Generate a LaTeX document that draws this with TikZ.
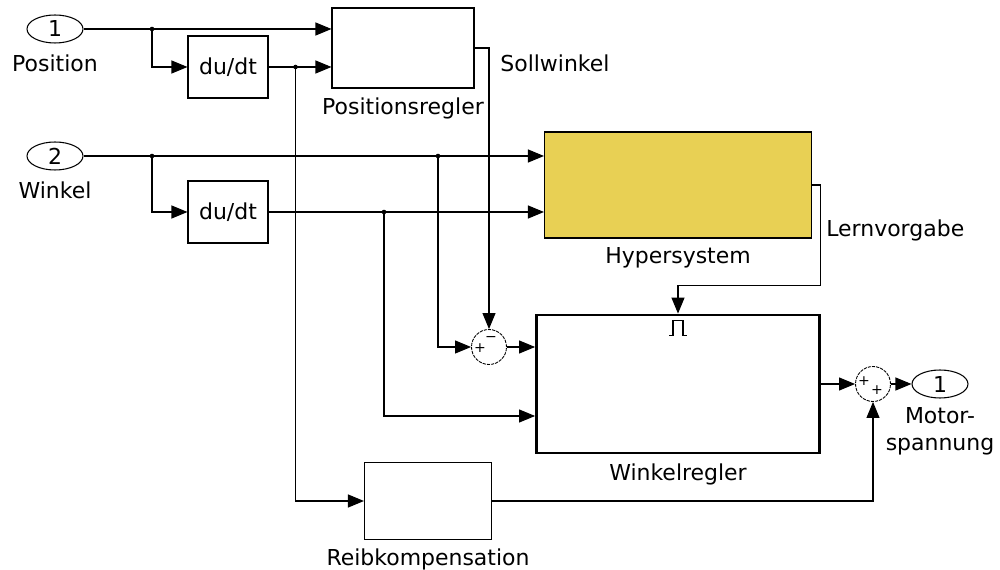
\documentclass[tikz,border=0pt]{standalone}
\usepackage{fontspec}
\setmainfont{DejaVu Sans}
\usepackage{tikz}
\usetikzlibrary{shapes.geometric, positioning, arrows.meta, calc}
\definecolor{hypergelb}{RGB}{232,208,84}

\begin{document}
\begin{tikzpicture}[
            x=0.2mm, y=-0.2mm,
            node distance=5pt,
            every node/.style={font=\fontsize{12.5}{15.5}\selectfont},
            % Stile der Bloecke
            block/.style={rectangle, draw=black, line width=0.6pt, minimum width=16mm, minimum height=12.4mm, inner sep=0pt},
            port/.style={ellipse, draw=black, line width=0.6pt, minimum width=11.2mm, minimum height=5.6mm, inner sep=0pt},
            sumnode/.style={circle, draw=black, line width=0.5pt, dash pattern=on 1.8pt off 0.6pt, minimum size=7mm, inner sep=0pt},
            lbl/.style={inner sep=0pt, align=center},
            sgn/.style={font=\fontsize{8}{8}\selectfont, inner sep=0pt},
            arrow/.style={line width=0.6pt, -{Triangle[length=3.2mm, width=2.6mm]}}
        ]
            \useasboundingbox (0,0) rectangle (1000,570);

            % --- Ein- und Ausgaenge ---
            \node (in1) [port] at (55,29) {1};
            \node (poslbl) [lbl, below=6pt of in1] {Position};

            \node (in2) [port] at (55,156) {2};
            \node (winlbl) [lbl, below=6pt of in2] {Winkel};

            \node (out1) [port] at (940,384) {1};
            \node (outlbl) [lbl, below=5pt of out1] {Motor-\\spannung};

            % --- Bloecke ---
            \node (ddt1) [block] at (228,67) {du/dt};
            \node (ddt2) [block] at (228,212) {du/dt};

            \node (posr) [block, minimum width=28.4mm, minimum height=16mm] at (403,48) {};
            \node (posrlbl) [lbl, below=5pt of posr] {Positionsregler};

            \node (hyper) [block, fill=hypergelb, minimum width=53.4mm, minimum height=21.2mm] at (678,185) {};
            \node (hyperlbl) [lbl, below=5pt of hyper] {Hypersystem};

            \node (winkel) [block, line width=1.6pt, minimum width=56.6mm, minimum height=27.6mm] at (678,384) {};
            \node (winkellbl) [lbl, below=5pt of winkel] {Winkelregler};

            \node (reib) [block, minimum width=25.4mm, minimum height=15.4mm] at (428,501) {};
            \node (reiblbl) [lbl, below=5pt of reib] {Reibkompensation};

            \node (sum1) [sumnode] at (489,347) {};
            \node (s1p) [sgn] at ($(sum1)+(-9,1)$) {+};
            \node (s1m) [sgn] at ($(sum1)+(2,-8)$) {−};

            \node (sum2) [sumnode] at (873,384) {};
            \node (s2pa) [sgn] at ($(sum2)+(-9,-3)$) {+};
            \node (s2pb) [sgn] at ($(sum2)+(4,6)$) {+};

            % Impuls-Symbol im Winkelregler
            \draw [line width=0.6pt] ([shift={(-9,22)}]winkel.north) -- ++(4,0) -- ++(0,-15) -- ++(10,0) -- ++(0,15) -- ++(4,0);

            % --- Verzweigungen ---
            \coordinate (b1) at (152,29);
            \coordinate (b2) at ($(ddt1.east)+(27,0)$);
            \coordinate (b3) at (152,156);
            \coordinate (b4) at (384,212);
            \coordinate (b5) at (438,156);
            \foreach \p in {b1,b2,b3,b4,b5}
                \fill (\p) circle (1.3pt);

            % --- Verbindungen ---
            \draw [arrow] (in1.east) -- (in1.east -| posr.west);
            \draw [arrow] (b1) |- (ddt1.west);
            \draw [arrow] (ddt1.east) -- (ddt1.east -| posr.west);
            \draw [arrow] (b2) |- (reib.west);
            \draw [arrow] (posr.east) -| (sum1.north);
            \node (sollbl) [lbl, anchor=west] at (500,63) {Sollwinkel};

            \draw [arrow] (in2.east) -- (in2.east -| hyper.west);
            \draw [arrow] (b3) |- (ddt2.west);
            \draw [arrow] (ddt2.east) -- (ddt2.east -| hyper.west);
            \draw [arrow] (b5) |- (sum1.west);
            \draw [arrow] (b4) |- ([yshift=-6.4mm]winkel.west);
            \draw [arrow] (sum1.east) -- (sum1.east -| winkel.west);

            \draw [arrow] (hyper.east) -- ++(8,0) |- ([yshift=5.6mm]winkel.north) -- (winkel.north);
            \node (lernlbl) [lbl, anchor=west] at (826,230) {Lernvorgabe};

            \draw [arrow] (winkel.east) -- (sum2.west);
            \draw [arrow] (sum2.east) -- (out1.west);
            \draw [arrow] (reib.east) -| (sum2.south);

        \end{tikzpicture}
\end{document}
